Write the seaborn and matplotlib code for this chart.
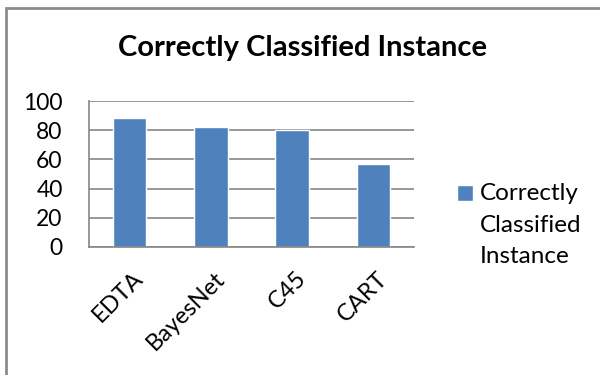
import matplotlib
matplotlib.use("Agg")
import matplotlib.pyplot as plt
import matplotlib.transforms as mtransforms
import seaborn as sns
import pandas as pd
from matplotlib.patches import Rectangle

# data
classifiers = ["EDTA", "BayesNet", "C45", "CART"]
correct = [88.2, 82.2, 80.4, 56.7]
series_name = "Correctly Classified Instance"

sns.set_style("white")
plt.rcParams["font.family"] = ["Lato", "DejaVu Sans"]
plt.rcParams["text.color"] = "black"
plt.rcParams["xtick.color"] = "black"
plt.rcParams["ytick.color"] = "black"

df = pd.DataFrame({"classifier": classifiers, "value": correct})

fig = plt.figure(figsize=(6, 3.75), dpi=100)
ax = fig.add_axes([89 / 600, 1 - 247 / 375, 325 / 600, 146 / 375])

sns.barplot(data=df, x="classifier", y="value", color="#4F81BD", width=0.41,
            saturation=1, ax=ax, label="Correctly\nClassified\nInstance")

ax.set_ylim(0, 100)
ax.set_xlim(-0.5, len(classifiers) - 0.5)
ax.set_yticks(range(0, 101, 20))
ax.yaxis.grid(True, color="#868686", lw=1.2)
ax.set_axisbelow(True)
ax.tick_params(axis="y", length=8, color="#868686", width=1.2, labelsize=16.5,
               pad=11, labelcolor="black")
ax.tick_params(axis="x", which="major", length=0, labelsize=17, pad=15,
               labelcolor="black")
ax.set_xticks([i - 0.5 for i in range(len(classifiers) + 1)], minor=True)
ax.tick_params(axis="x", which="minor", length=7, color="#868686", width=1.2)
shift = mtransforms.ScaledTranslation(3 / 100, 0, fig.dpi_scale_trans)
for lab in ax.get_xticklabels():
    lab.set_rotation(45)
    lab.set_ha("right")
    lab.set_rotation_mode("anchor")
    lab.set_transform(lab.get_transform() + shift)
ax.set_xlabel("")
ax.set_ylabel("")
for s in ["top", "right"]:
    ax.spines[s].set_visible(False)
for s in ["left", "bottom"]:
    ax.spines[s].set_color("#868686")
    ax.spines[s].set_linewidth(1.2)

fig.text(303 / 600, 1 - 48 / 375, series_name, ha="center", va="center",
         fontsize=21, fontweight="bold")

leg = ax.legend(loc="upper left", bbox_to_anchor=(457 / 600, 1 - 183 / 375),
                bbox_transform=fig.transFigure, frameon=False, fontsize=17.5,
                handlelength=0.65, handleheight=0.65, handletextpad=0.3,
                borderpad=0, borderaxespad=0, labelspacing=0)
for t in leg.get_texts():
    t.set_linespacing(1.62)
# put the square next to the first line, not the middle one
h = leg.legend_handles[0]
h.set_y(h.get_y() + 23)

# chart border like the office export
fig.patches.append(Rectangle((6 / 600, -0.05), 1.1, 1 - 8 / 375 + 0.05,
                             transform=fig.transFigure, fill=False,
                             edgecolor="#8c8c8c", lw=2))

fig.savefig("out.png", dpi=100)
